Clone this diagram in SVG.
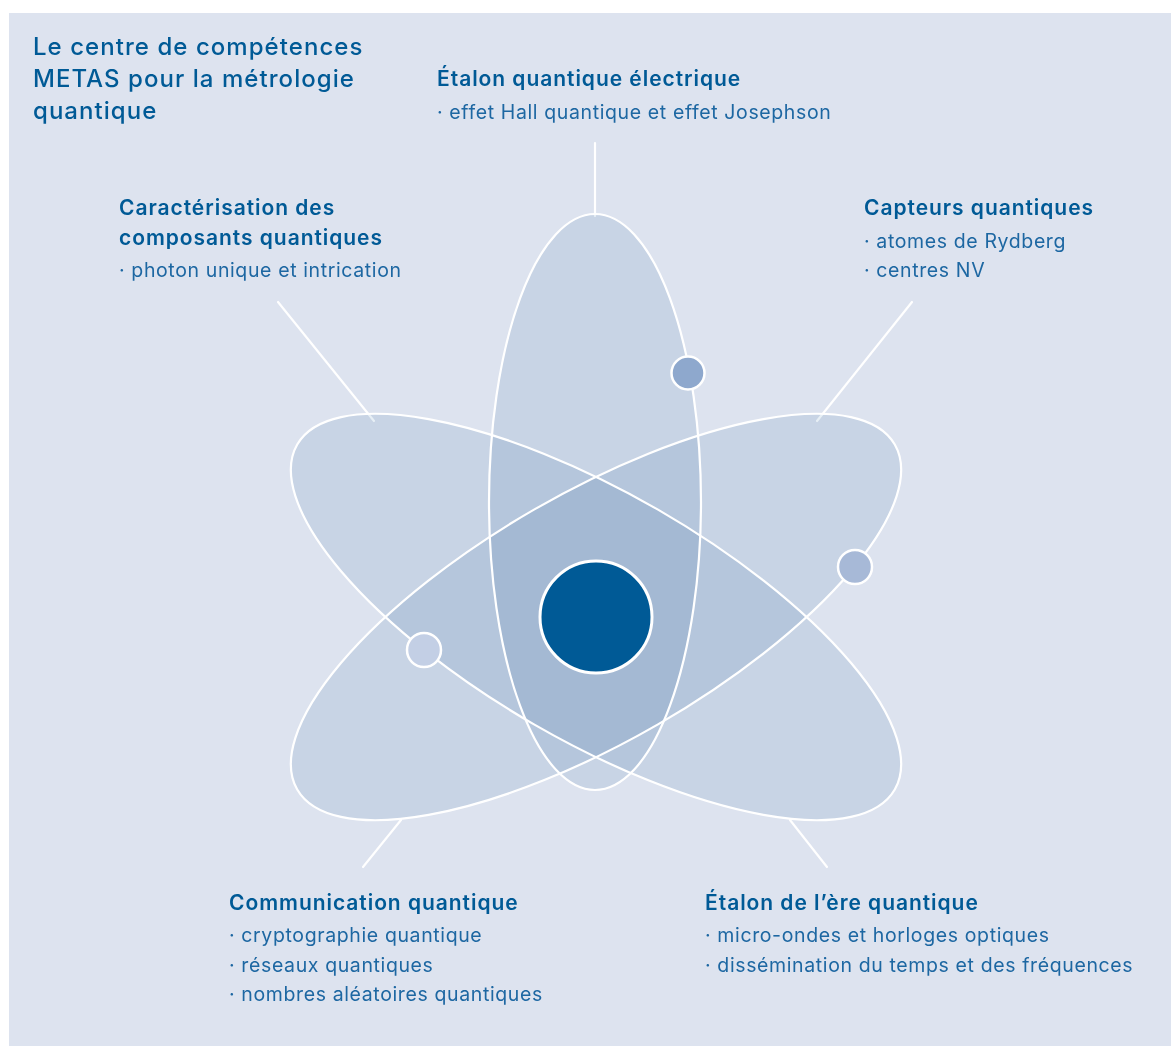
<svg xmlns="http://www.w3.org/2000/svg" width="1171" height="1046" viewBox="0 0 1171 1046">
  <style>
    .title { font-family: Inter, "Noto Sans", "Liberation Sans", sans-serif; font-size: 24px; letter-spacing: 1.05px; font-weight: 500; fill: #005a96; }
    .head { font-family: Inter, "Noto Sans", "Liberation Sans", sans-serif; font-size: 21px; letter-spacing: 0.95px; font-weight: 600; fill: #005a96; }
    .item { font-family: Inter, "Noto Sans", "Liberation Sans", sans-serif; font-size: 19.5px; letter-spacing: 0.62px; font-weight: 400; fill: #1d67a2; }
    .orbit-fill { fill: #e7eff5; stroke: none; mix-blend-mode: multiply; }
    .orbit-line { fill: none; stroke: #ffffff; stroke-width: 2.2; }
    .link { stroke: #ffffff; stroke-width: 2.2; stroke-linecap: round; }
    .electron { stroke: #ffffff; stroke-width: 2.5; }
  </style>

  <!-- panel -->
  <rect x="9" y="13" width="1162" height="1033" fill="#dde3ef"/>

  <!-- connectors from orbits to labels -->
  <g id="connectors">
    <line class="link" x1="595" y1="143" x2="595" y2="216"/>
    <line class="link" x1="278" y1="302" x2="374" y2="421"/>
    <line class="link" x1="912" y1="302" x2="817" y2="421"/>
    <line class="link" x1="363" y1="867" x2="401" y2="820"/>
    <line class="link" x1="827" y1="867" x2="790" y2="820"/>
  </g>

  <!-- atom -->
  <g id="atom">
    <g id="orbit-fills">
      <ellipse class="orbit-fill" cx="595" cy="502" rx="106" ry="288"/>
      <ellipse class="orbit-fill" cx="596" cy="617" rx="345" ry="124" transform="rotate(30 596 617)"/>
      <ellipse class="orbit-fill" cx="596" cy="617" rx="345" ry="124" transform="rotate(-30 596 617)"/>
    </g>
    <g id="orbit-lines">
      <ellipse class="orbit-line" cx="595" cy="502" rx="106" ry="288"/>
      <ellipse class="orbit-line" cx="596" cy="617" rx="345" ry="124" transform="rotate(30 596 617)"/>
      <ellipse class="orbit-line" cx="596" cy="617" rx="345" ry="124" transform="rotate(-30 596 617)"/>
    </g>
    <circle id="nucleus" cx="596" cy="617" r="56" fill="#005a96" stroke="#ffffff" stroke-width="3"/>
    <circle id="electron-1" class="electron" cx="688" cy="373" r="16.5" fill="#8ea8cd"/>
    <circle id="electron-2" class="electron" cx="855" cy="567" r="17" fill="#a7b9d7"/>
    <circle id="electron-3" class="electron" cx="424" cy="650" r="17" fill="#c3cfe5"/>
  </g>

  <g id="title">
    <text class="title" x="33" y="55">Le centre de compétences</text>
    <text class="title" x="33" y="87">METAS pour la métrologie</text>
    <text class="title" x="33" y="119">quantique</text>
  </g>

  <g id="node-electrique">
    <text class="head" x="437" y="86">Étalon quantique électrique</text>
    <text class="item" x="437" y="119">· effet Hall quantique et effet Josephson</text>
  </g>

  <g id="node-caracterisation">
    <text class="head" x="119" y="215">Caractérisation des</text>
    <text class="head" x="119" y="245">composants quantiques</text>
    <text class="item" x="119" y="277">· photon unique et intrication</text>
  </g>

  <g id="node-capteurs">
    <text class="head" x="864" y="215">Capteurs quantiques</text>
    <text class="item" x="864" y="248">· atomes de Rydberg</text>
    <text class="item" x="864" y="277">· centres NV</text>
  </g>

  <g id="node-communication">
    <text class="head" x="229" y="910">Communication quantique</text>
    <text class="item" x="229" y="942">· cryptographie quantique</text>
    <text class="item" x="229" y="972">· réseaux quantiques</text>
    <text class="item" x="229" y="1001">· nombres aléatoires quantiques</text>
  </g>

  <g id="node-ere">
    <text class="head" x="705" y="910">Étalon de l’ère quantique</text>
    <text class="item" x="705" y="942">· micro-ondes et horloges optiques</text>
    <text class="item" x="705" y="972">· dissémination du temps et des fréquences</text>
  </g>
</svg>
